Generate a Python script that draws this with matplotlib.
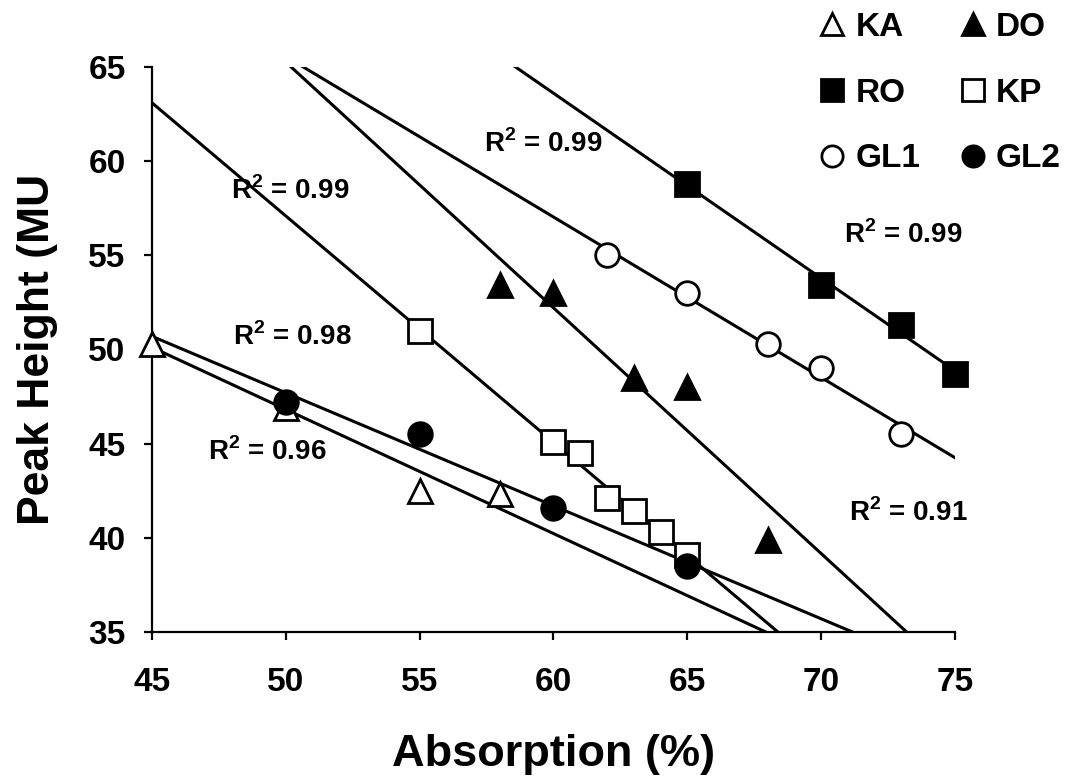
import numpy as np
import matplotlib.pyplot as plt

plt.rcParams['font.family'] = ['Liberation Sans', 'DejaVu Sans']
plt.rcParams['font.weight'] = 'bold'
plt.rcParams['mathtext.fontset'] = 'custom'
plt.rcParams['mathtext.bf'] = 'Liberation Sans:bold'
plt.rcParams['mathtext.rm'] = 'Liberation Sans:bold'

# data
ka_x = [45, 50, 55, 58]
ka_y = [50.3, 46.9, 42.5, 42.3]
do_x = [58, 60, 63, 65, 68]
do_y = [53.4, 53.0, 48.5, 48.0, 39.9]
ro_x = [65, 70, 73, 75]
ro_y = [58.8, 53.4, 51.3, 48.7]
kp_x = [55, 60, 61, 62, 63, 64, 65]
kp_y = [51.0, 45.1, 44.5, 42.1, 41.4, 40.3, 39.1]
gl1_x = [62, 65, 68, 70, 73]
gl1_y = [55.0, 53.0, 50.3, 49.0, 45.5]
gl2_x = [50, 55, 60, 65]
gl2_y = [47.2, 45.5, 41.6, 38.5]

# R^2 labels and where they sit
r2_text = ['0.96', '0.91', '0.99', '0.99', '0.99', '0.98']
r2_x = [49.3, 73.25, 59.6, 50.15, 73.05, 50.25]
r2_y = [44.55, 41.35, 60.95, 58.45, 56.1, 50.7]

series = [
    ('KA', ka_x, ka_y, '^', 'white'),
    ('DO', do_x, do_y, '^', 'black'),
    ('RO', ro_x, ro_y, 's', 'black'),
    ('KP', kp_x, kp_y, 's', 'white'),
    ('GL1', gl1_x, gl1_y, 'o', 'white'),
    ('GL2', gl2_x, gl2_y, 'o', 'black'),
]

fig = plt.figure(figsize=(10.77, 7.83), dpi=100)
ax = fig.add_axes([0.1411, 0.1929, 0.7456, 0.7215])

xx = np.array([45.0, 75.0])
handles = {}
for name, x, y, m, fc in series:
    k, b = np.polyfit(x, y, 1)  # linear trend line
    ax.plot(xx, k * xx + b, color='black', lw=2.2, zorder=2)
    h, = ax.plot(x, y, linestyle='none', marker=m, ms=17, mfc=fc, mec='black',
                 mew=2, clip_on=False, zorder=3)
    handles[name] = h

for t, x, y in zip(r2_text, r2_x, r2_y):
    ax.text(x, y, r'R$^{\mathbf{2}}$ = ' + t, ha='center', va='center',
            fontsize=20, fontweight='bold', zorder=1)

ax.set_xlim(45, 75)
ax.set_ylim(35, 65)
ax.set_xticks(range(45, 76, 5))
ax.set_yticks(range(35, 66, 5))
for s in ['top', 'right']:
    ax.spines[s].set_visible(False)
for s in ['left', 'bottom']:
    ax.spines[s].set_linewidth(1.6)
ax.tick_params(axis='both', direction='out', length=6, width=1.6, labelsize=24)
ax.tick_params(axis='y', pad=13)
ax.tick_params(axis='x', pad=19)
ax.set_xlabel('Absorption (%)', fontsize=32.5, fontweight='bold', labelpad=26)
ax.set_ylabel('Peak Height (MU', fontsize=32, fontweight='bold', labelpad=22)

order = ['KA', 'RO', 'GL1', 'DO', 'KP', 'GL2']
leg = fig.legend([handles[n] for n in order], order, ncol=2, loc='upper right',
                 bbox_to_anchor=(1.013, 1.023), frameon=False, markerscale=0.9,
                 prop={'size': 24, 'weight': 'bold'}, handlelength=0.8,
                 handletextpad=0.3, columnspacing=1.17, labelspacing=1.04)

fig.savefig('out.png', dpi=100)
